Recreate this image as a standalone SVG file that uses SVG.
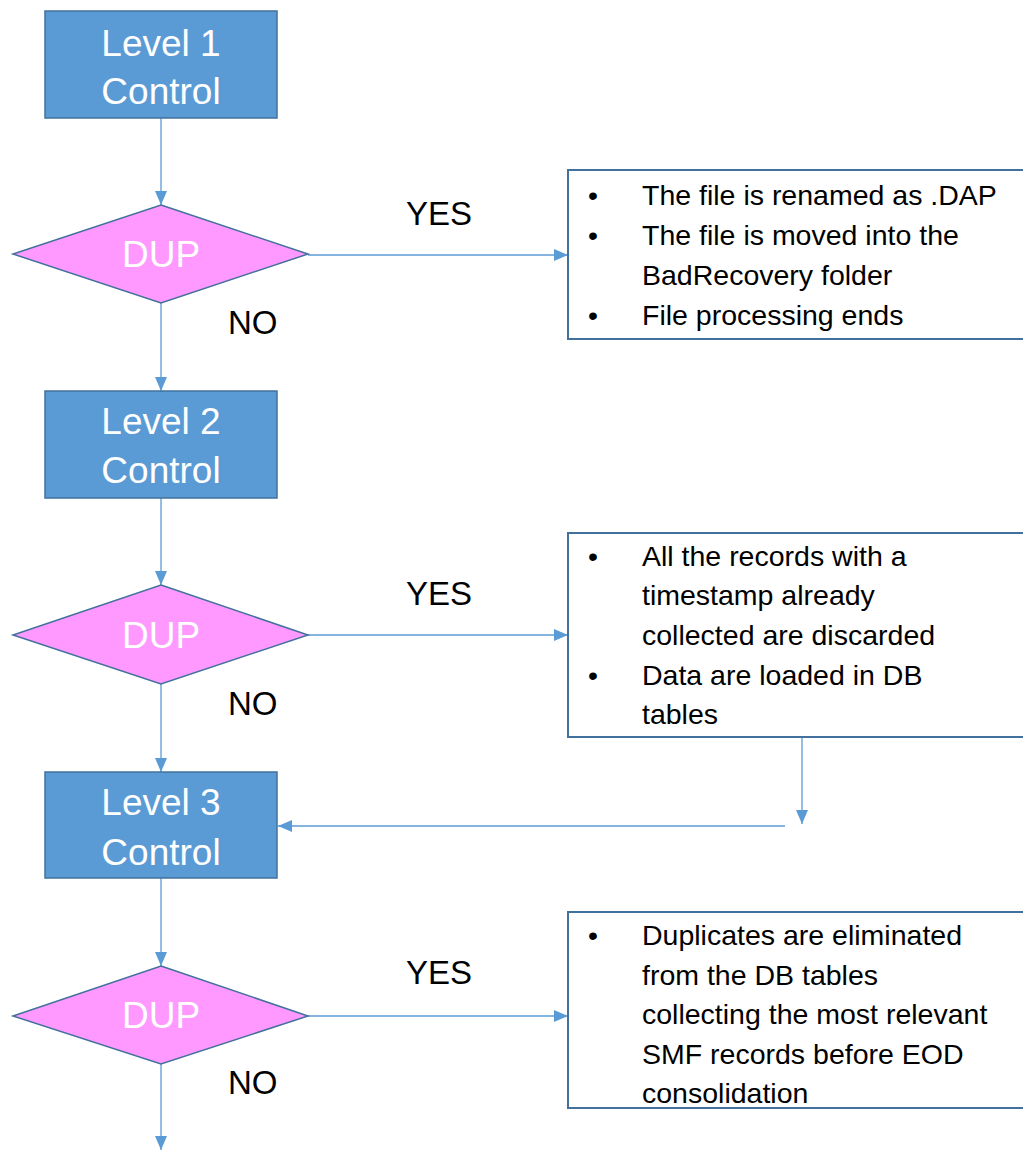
<svg xmlns="http://www.w3.org/2000/svg" width="1023" height="1150" viewBox="0 0 1023 1150">
<style>
.proc{fill:#5B9BD5;stroke:#41719C;stroke-width:1.5}
.dec{fill:#FF99FF;stroke:#41719C;stroke-width:1.5}
.note{fill:#FFFFFF;stroke:#41719C;stroke-width:2}
.wt{font-family:"Liberation Sans",Arial,sans-serif;font-size:37px;fill:#FFFFFF;text-anchor:middle}
.lbl{font-family:"Liberation Sans",Arial,sans-serif;font-size:33px;fill:#000000}
.bt{font-family:"Liberation Sans",Arial,sans-serif;font-size:28.5px;fill:#000000}
.conn{stroke:#5B9BD5;stroke-width:1.3;fill:none}
</style>
<defs>
<marker id="arrL" viewBox="0 0 14 12" refX="14" refY="6" markerWidth="14" markerHeight="12" markerUnits="userSpaceOnUse" orient="auto">
<path d="M0,0 L14,6 L0,12 z" fill="#5B9BD5"/>
</marker>
</defs>

<g id="connectors">
<line class="conn" x1="161" y1="118" x2="161" y2="205" marker-end="url(#arrL)"/>
<line class="conn" x1="308" y1="255" x2="568" y2="255" marker-end="url(#arrL)"/>
<line class="conn" x1="161" y1="303" x2="161" y2="391" marker-end="url(#arrL)"/>
<line class="conn" x1="161" y1="498" x2="161" y2="585" marker-end="url(#arrL)"/>
<line class="conn" x1="308" y1="635" x2="568" y2="635" marker-end="url(#arrL)"/>
<line class="conn" x1="161" y1="684" x2="161" y2="772" marker-end="url(#arrL)"/>
<line class="conn" x1="802" y1="737" x2="802" y2="824" marker-end="url(#arrL)"/>
<line class="conn" x1="785" y1="826" x2="278" y2="826" marker-end="url(#arrL)"/>
<line class="conn" x1="161" y1="878" x2="161" y2="966" marker-end="url(#arrL)"/>
<line class="conn" x1="308" y1="1016" x2="568" y2="1016" marker-end="url(#arrL)"/>
<line class="conn" x1="161" y1="1064" x2="161" y2="1150" marker-end="url(#arrL)"/>
</g>

<g id="level1">
<rect class="proc" x="45" y="11" width="232" height="107"/>
<text class="wt" x="161" y="56">Level 1</text>
<text class="wt" x="161" y="104">Control</text>
</g>
<g id="dup1">
<polygon class="dec" points="161,205 308,254 161,303 13,254"/>
<text class="wt" x="161" y="267">DUP</text>
</g>
<g id="level2">
<rect class="proc" x="45" y="391" width="232" height="107"/>
<text class="wt" x="161" y="434">Level 2</text>
<text class="wt" x="161" y="483">Control</text>
</g>
<g id="dup2">
<polygon class="dec" points="161,585 308,635 161,684 13,635"/>
<text class="wt" x="161" y="648">DUP</text>
</g>
<g id="level3">
<rect class="proc" x="45" y="772" width="232" height="106"/>
<text class="wt" x="161" y="815">Level 3</text>
<text class="wt" x="161" y="865">Control</text>
</g>
<g id="dup3">
<polygon class="dec" points="161,966 308,1016 161,1064 13,1016"/>
<text class="wt" x="161" y="1028">DUP</text>
</g>

<g id="labels">
<text class="lbl" x="406" y="225">YES</text>
<text class="lbl" x="228" y="334">NO</text>
<text class="lbl" x="406" y="605">YES</text>
<text class="lbl" x="228" y="715">NO</text>
<text class="lbl" x="406" y="984">YES</text>
<text class="lbl" x="228" y="1094">NO</text>
</g>

<g id="note1">
<rect class="note" x="568" y="170" width="460" height="169"/>
<text class="bt" x="593" y="205" text-anchor="middle">•</text>
<text class="bt" x="642" y="205">The file is renamed as .DAP</text>
<text class="bt" x="593" y="245" text-anchor="middle">•</text>
<text class="bt" x="642" y="245">The file is moved into the</text>
<text class="bt" x="642" y="285">BadRecovery folder</text>
<text class="bt" x="593" y="325" text-anchor="middle">•</text>
<text class="bt" x="642" y="325">File processing ends</text>
</g>
<g id="note2">
<rect class="note" x="568" y="533" width="460" height="204"/>
<text class="bt" x="593" y="566" text-anchor="middle">•</text>
<text class="bt" x="642" y="566">All the records with a</text>
<text class="bt" x="642" y="605">timestamp already</text>
<text class="bt" x="642" y="645">collected are discarded</text>
<text class="bt" x="593" y="685" text-anchor="middle">•</text>
<text class="bt" x="642" y="685">Data are loaded in DB</text>
<text class="bt" x="642" y="724">tables</text>
</g>
<g id="note3">
<rect class="note" x="568" y="912" width="460" height="196"/>
<text class="bt" x="593" y="945" text-anchor="middle">•</text>
<text class="bt" x="642" y="945">Duplicates are eliminated</text>
<text class="bt" x="642" y="985">from the DB tables</text>
<text class="bt" x="642" y="1024">collecting the most relevant</text>
<text class="bt" x="642" y="1064">SMF records before EOD</text>
<text class="bt" x="642" y="1103">consolidation</text>
</g>
</svg>
